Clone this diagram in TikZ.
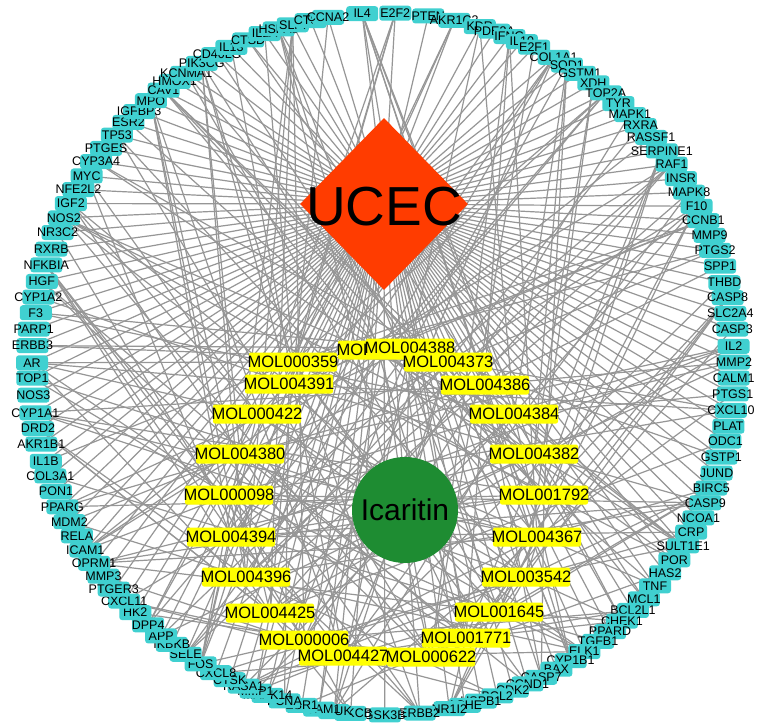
\documentclass[tikz,border=0pt]{standalone}
\usepackage{fontspec}
\setmainfont{Liberation Sans}
\usetikzlibrary{shapes.geometric}
\definecolor{tcyan}{RGB}{64,208,208}
\definecolor{ucecred}{RGB}{255,60,0}
\definecolor{icgreen}{RGB}{30,140,50}
\definecolor{edgegray}{RGB}{150,150,150}
\definecolor{molyellow}{RGB}{255,255,0}
\pgfdeclarelayer{bg}
\pgfsetlayers{bg,main}
\begin{document}
\begin{tikzpicture}[x=1pt,y=-1pt,
  tbox/.style={rectangle, rounded corners=3pt, fill=tcyan, minimum width=32pt, minimum height=15pt, inner sep=0pt},
  tlab/.style={font=\fontsize{12.5}{13}\selectfont, inner sep=0pt, text=black},
  mbox/.style={rectangle, rounded corners=2pt, fill=molyellow, minimum width=88pt, minimum height=19pt, inner sep=0pt},
  mlab/.style={font=\fontsize{16.5}{17}\selectfont, inner sep=0pt, text=black},
  lnk/.style={draw=edgegray, line width=1.2pt}]
\useasboundingbox (0,0) rectangle (757,727);
% targets on the outer circle
\foreach \name/\ang [count=\i] in {IL4/93.4,E2F2/88.0,PTEN/82.6,AKR1C3/78.3,KDR/74.0,PDE3A/71.5,IFNG/68.9,IL10/66.7,E2F1/64.5,COL1A1/60.9,SOD1/58.4,GSTM1/55.9,XDH/53.2,TOP2A/50.6,TYR/47.9,MAPK1/45.3,RXRA/42.8,RASSF1/40.2,SERPINE1/37.4,RAF1/34.7,INSR/31.9,MAPK8/29.3,F10/26.7,CCNB1/24.1,MMP9/21.5,PTGS2/18.9,SPP1/16.2,THBD/13.4,CASP8/10.9,SLC2A4/8.3,CASP3/5.7,IL2/2.9,MMP2/0.3,CALM1/-2.3,PTGS1/-4.9,CXCL10/-7.6,PLAT/-10.2,ODC1/-12.7,GSTP1/-15.4,JUND/-18.1,BIRC5/-20.7,CASP9/-23.3,NCOA1/-26.0,CRP/-28.6,SULT1E1/-31.2,POR/-33.9,HAS2/-36.5,TNF/-39.2,MCL1/-42.0,BCL2L1/-44.6,CHEK1/-47.1,PPARD/-49.7,TGFB1/-52.2,ELK1/-55.0,CYP1B1/-57.7,BAX/-60.4,CASP7/-63.2,CCND1/-65.7,CDK2/-68.3,BCL2/-71.0,HSPB1/-73.8,ACHE/-76.5,NR1I2/-79.1,ERBB2/-84.0,GSK3B/-89.7,PRKCB/-95.3,CHUK/-98.0,VCAM1/-100.5,ESR1/-103.4,PCNA/-106.3,MAPK14/-109.2,MMP1/-111.3,RASA1/-113.4,CTSK/-115.9,CXCL8/-118.4,FOS/-121.3,SELE/-124.2,IKBKB/-127.0,APP/-129.2,DPP4/-132.0,HK2/-134.9,CXCL11/-137.5,PTGER3/-140.1,MMP3/-142.8,OPRM1/-145.4,ICAM1/-148.0,RELA/-150.7,MDM2/-153.3,PPARG/-156.0,PON1/-158.7,COL3A1/-161.4,IL1B/-163.9,AKR1B1/-166.8,DRD2/-169.4,CYP1A1/-172.0,NOS3/-174.9,TOP1/-177.7,AR/-180.2,ERBB3/-183.0,PARP1/-185.7,F3/-188.4,CYP1A2/-191.0,HGF/-193.6,NFKBIA/-196.4,RXRB/-199.1,NR3C2/-202.0,NOS2/-204.6,IGF2/-207.2,NFE2L2/-209.8,MYC/-212.4,CYP3A4/-215.2,PTGES/-217.9,TP53/-220.7,ESR2/-223.5,IGFBP3/-226.0,MPO/-228.6,CAV1/-231.3,HMOX1/-233.6,KCNMA1/-235.9,PIK3CG/-238.9,CD40LG/-241.8,IL13/-244.4,CTSD/-247.4,IL1A/-250.3,HSPA5/-252.7,SLPI/-255.1,CTSB/-258.1,CCNA2/-261.0}{
  \pgfmathsetmacro\px{383+351*cos(\ang)}
  \pgfmathsetmacro\py{364-351*sin(\ang)}
  \node[tbox] (t\i) at (\px,\py) {};
  \node[tlab] at (t\i) {\name};
}
% disease node
\node[diamond, fill=ucecred, minimum width=168pt, minimum height=172pt, inner sep=0pt] (ucec) at (384,204) {};
\node[font=\fontsize{55}{56}\selectfont, inner sep=0pt] at (384,207) {UCEC};
% compound node
\node[circle, fill=icgreen, minimum size=106pt, inner sep=0pt] (ic) at (405,510) {};
\node[font=\fontsize{30}{31}\selectfont, inner sep=0pt] at (ic) {Icaritin};
% ingredient nodes
\foreach \name/\x/\y [count=\i] in {MOL004369/382/350,MOL004388/410/348,MOL000359/293/362,MOL004373/448/362,MOL004391/289/384,MOL004386/485/385,MOL000422/257/414,MOL004384/514/414,MOL004380/240/454,MOL004382/534/454,MOL000098/229/495,MOL001792/544/495,MOL004394/231/537,MOL004367/537/537,MOL004396/246/577,MOL003542/526/577,MOL004425/270/613,MOL001645/499/612,MOL000006/304/640,MOL001771/466/638,MOL004427/343/656,MOL000622/431/657}{
  \node[mbox] (m\i) at (\x,\y) {};
  \node[mlab] at (m\i) {\name};
}
\begin{pgfonlayer}{bg}
\fill[white] (0,0) rectangle (757,727);
\foreach \i in {1,...,128}{\draw[lnk] (ucec.center) -- (t\i.center);}
\foreach \i in {1,...,22}{\draw[lnk] (ic.center) -- (m\i.center);}
\foreach \m in {1,...,22}{
  \foreach \k in {1,...,11}{
    \pgfmathtruncatemacro\t{mod(\m*53+\k*\k*7+\k*19,128)+1}
    \draw[lnk] (m\m.center) -- (t\t.center);
  }
}
\end{pgfonlayer}
\end{tikzpicture}
\end{document}
